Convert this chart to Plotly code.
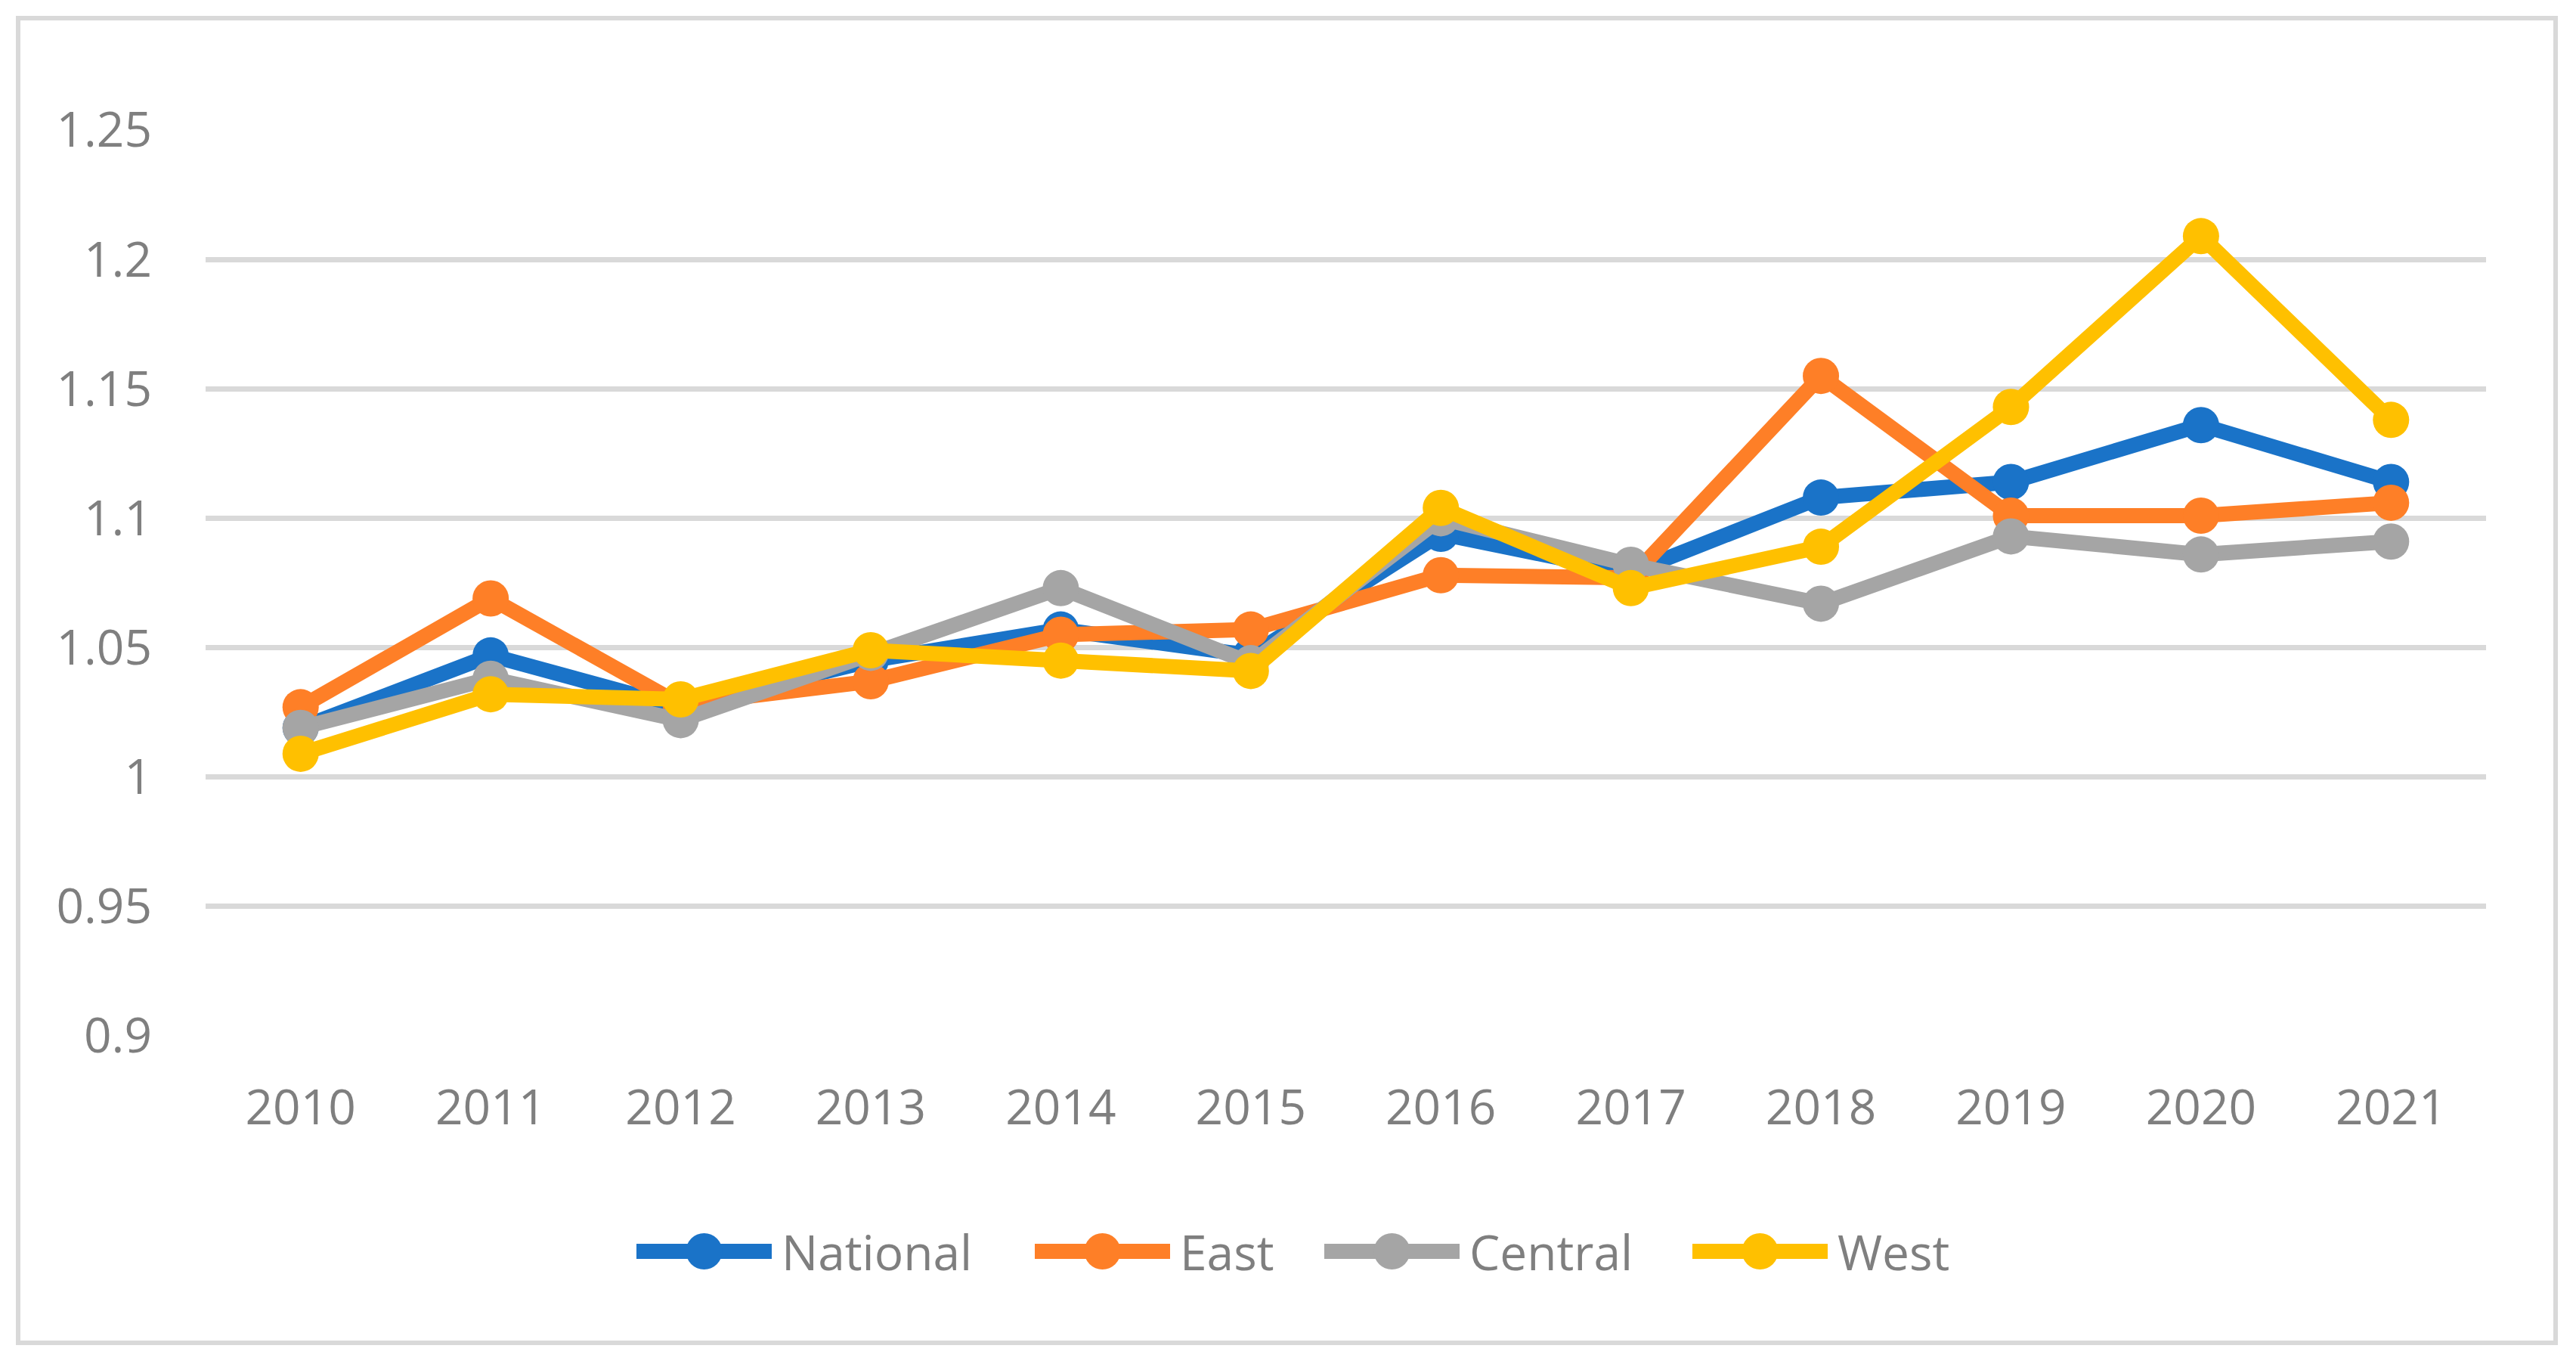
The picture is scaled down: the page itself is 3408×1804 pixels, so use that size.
import plotly.graph_objects as go

# ---------------- data ----------------
years = ["2010", "2011", "2012", "2013", "2014", "2015",
         "2016", "2017", "2018", "2019", "2020", "2021"]
national = [1.019, 1.047, 1.027, 1.045, 1.057, 1.047, 1.094, 1.079, 1.108, 1.114, 1.136, 1.114]
east = [1.027, 1.069, 1.028, 1.037, 1.055, 1.057, 1.078, 1.077, 1.155, 1.101, 1.101, 1.106]
central = [1.019, 1.038, 1.022, 1.048, 1.073, 1.044, 1.100, 1.082, 1.067, 1.093, 1.086, 1.091]
west = [1.009, 1.032, 1.030, 1.049, 1.045, 1.041, 1.104, 1.073, 1.089, 1.143, 1.209, 1.138]

series_names = ["National", "East", "Central", "West"]
series_values = [national, east, central, west]
series_colors = ["#1a73c8", "#fe7f27", "#a5a5a5", "#ffc000"]

y_ticks = [0.9, 0.95, 1.0, 1.05, 1.1, 1.15, 1.2, 1.25]
y_tick_text = ["0.9", "0.95", "1", "1.05", "1.1", "1.15", "1.2", "1.25"]

# ---------------- layout geometry (pixels) ----------------
W, H = 3408, 1804
PL, PR, PT, PB = 272, 3289, 172, 1370  # plot area
FONT = "Open Sans"
TXT = "#7f7f7f"
GRID = "#d9d9d9"


def px_x(px):
    return (px - PL) / (PR - PL)


def px_y(py):
    return (PB - py) / (PB - PT)


fig = go.Figure()
for name, vals, col in zip(series_names, series_values, series_colors):
    fig.add_trace(go.Scatter(
        x=years, y=vals, name=name, mode="lines+markers",
        line=dict(color=col, width=20),
        marker=dict(color=col, size=48, line=dict(width=0)),
        showlegend=False,
    ))

shapes = []
annotations = []
# outer chart border
shapes.append(dict(type="rect", xref="paper", yref="paper",
                   x0=px_x(24), x1=px_x(3381), y0=px_y(1776), y1=px_y(24),
                   line=dict(color=GRID, width=6), fillcolor="rgba(0,0,0,0)",
                   layer="below"))

# custom legend (large symbols like the original)
legend_starts = [842, 1369, 1752, 2239]
leg_y = 1655
line_len = 179
for start, name, col in zip(legend_starts, series_names, series_colors):
    shapes.append(dict(type="line", xref="paper", yref="paper",
                       x0=px_x(start), x1=px_x(start + line_len),
                       y0=px_y(leg_y), y1=px_y(leg_y),
                       line=dict(color=col, width=20)))
    cx = start + line_len / 2
    shapes.append(dict(type="circle", xref="paper", yref="paper",
                       x0=px_x(cx - 24), x1=px_x(cx + 24),
                       y0=px_y(leg_y + 24), y1=px_y(leg_y - 24),
                       line=dict(width=0), fillcolor=col))
    annotations.append(dict(xref="paper", yref="paper",
                            x=px_x(start + 190), y=px_y(leg_y),
                            xanchor="left", yanchor="middle",
                            text=name, showarrow=False,
                            font=dict(family=FONT, size=64, color=TXT)))

fig.update_layout(
    width=W, height=H,
    margin=dict(l=PL, r=W - PR, t=PT, b=H - PB, pad=0),
    paper_bgcolor="white", plot_bgcolor="white",
    font=dict(family=FONT, size=64, color=TXT),
    shapes=shapes, annotations=annotations,
    showlegend=False,
    xaxis=dict(type="category", range=[-0.5, len(years) - 0.5],
               showgrid=False, zeroline=False, showline=False,
               ticks="", ticklabelstandoff=52,
               tickfont=dict(family=FONT, size=64, color=TXT)),
    yaxis=dict(range=[0.9, 1.25], tickvals=y_ticks, ticktext=y_tick_text,
               showgrid=True, gridcolor=GRID, gridwidth=7,
               zeroline=False, showline=False, ticks="",
               ticklabelstandoff=70,
               tickfont=dict(family=FONT, size=64, color=TXT)),
)

fig.write_html("out.html", config={"displayModeBar": False},
               post_script="document.body.style.margin='0';")
